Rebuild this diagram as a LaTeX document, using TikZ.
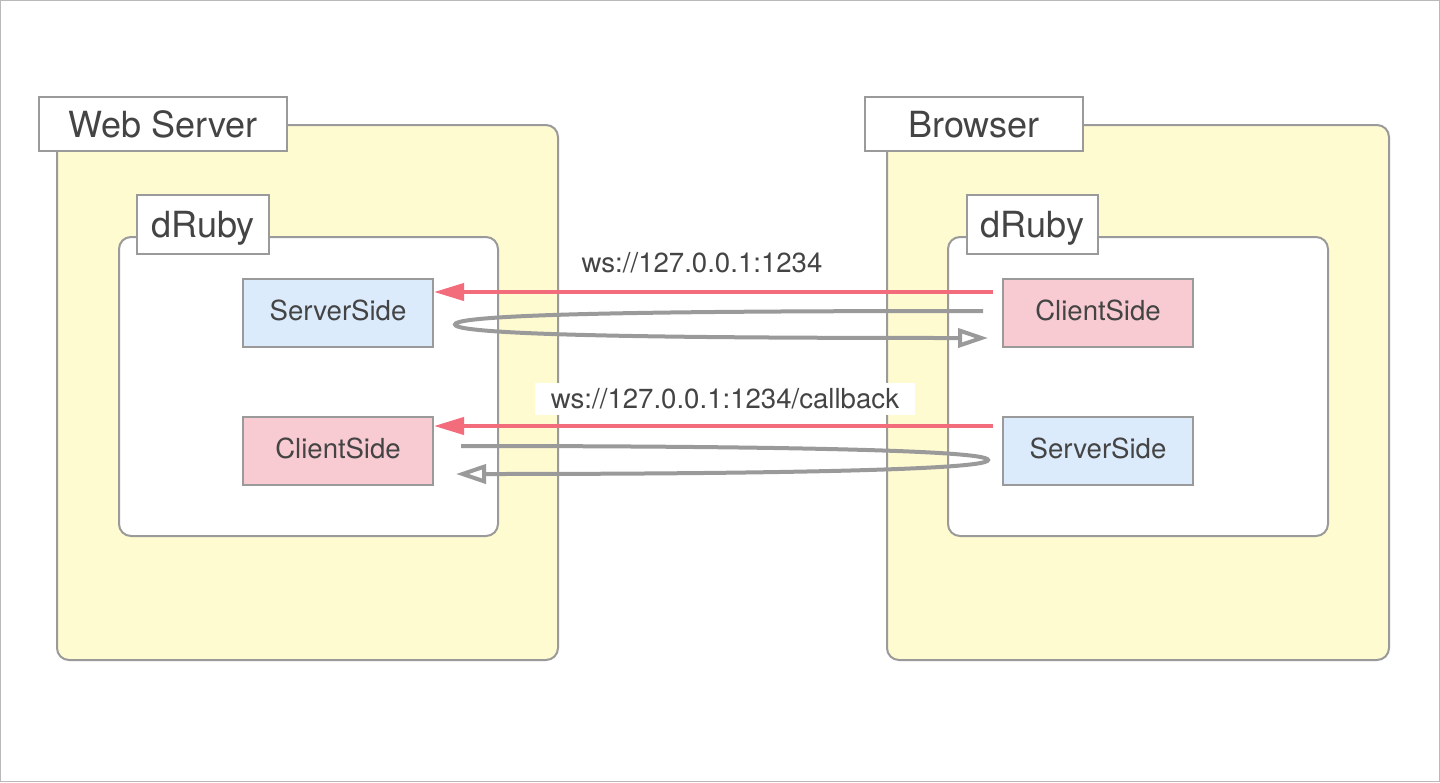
\documentclass[tikz,border=0pt]{standalone}
\usepackage{fontspec}
\setmainfont{TeX Gyre Heros}
\usetikzlibrary{positioning}
\usetikzlibrary{arrows.meta}
\definecolor{myyellow}{HTML}{FFFBD1}
\definecolor{myblue}{HTML}{DBEBFC}
\definecolor{mypink}{HTML}{F8CBD3}
\definecolor{myred}{HTML}{F36C7C}
\definecolor{mygray}{HTML}{9A9A9A}
\definecolor{mytext}{HTML}{444444}
\tikzset{
    mybox/.style = {rectangle, draw=mygray, line width=1pt, inner sep=0pt, text=mytext},
    myboxy/.style = {mybox, rounded corners=6pt, fill=myyellow},
    myboxw/.style = {mybox, rounded corners=6pt, fill=white},
    mytitle/.style = {mybox, fill=white, text depth=0pt, font=\fontsize{18}{20}\selectfont},
    mynodeb/.style = {mybox, fill=myblue, minimum width=95pt, minimum height=34pt, text depth=0.5ex, font=\fontsize{13.8}{16}\selectfont},
    mynoder/.style = {mybox, fill=mypink, minimum width=95pt, minimum height=34pt, text depth=0.5ex, font=\fontsize{13.8}{16}\selectfont},
    mylabel/.style = {inner sep=0pt, text=mytext, font=\fontsize{13.8}{16}\selectfont},
    edger/.style = {-{Triangle[length=15pt,width=8.5pt]}, line width=2pt, myred}, % request
    edgeg/.style = {-{Triangle[open,length=15pt,width=9.5pt]}, line width=2pt, mygray}, % round trip
    frame/.style = {line width=0.6pt, gray!55}
}

\begin{document}
\begin{tikzpicture}[x=0.5pt, y=-0.5pt]
  \useasboundingbox (0,0) rectangle (1440,782);
  \draw[frame] (0.6,0.6) rectangle (1439.4,781.4);

  % Web Server side
  \node[myboxy, minimum width=250.5pt, minimum height=267.5pt] (web) at (307.5,392.5) {};
  \node[mytitle, minimum width=124pt, minimum height=27pt] (webt) at (163,124) {Web Server};
  \node[myboxw, minimum width=189.5pt, minimum height=149.5pt] (drl) at (308.5,386.5) {};
  \node[mytitle, minimum width=66pt, minimum height=29.5pt] (drlt) at (203,224.5) {dRuby};
  \node[mynodeb] (ssl) at (338,313) {ServerSide};
  \node[mynoder, below=34pt of ssl] (csl) {ClientSide};

  % Browser side
  \node[myboxy, minimum width=251pt, minimum height=267.5pt] (brw) at (1138,392.5) {};
  \node[mytitle, minimum width=109pt, minimum height=27pt] (brwt) at (974,124) {Browser};
  \node[myboxw, minimum width=190pt, minimum height=149.5pt] (drr) at (1138,386.5) {};
  \node[mytitle, minimum width=65.5pt, minimum height=29.5pt] (drrt) at (1032.5,224.5) {dRuby};
  \node[mynoder] (csr) at (1098,313) {ClientSide};
  \node[mynodeb, below=34pt of csr] (ssr) {ServerSide};

  % urls
  \node[mylabel] (url) at (702,263) {ws://127.0.0.1:1234};
  \node[mylabel, fill=white, minimum width=190pt, minimum height=16pt] (urlcb) at (725,399) {ws://127.0.0.1:1234/callback};

  % first connection
  \coordinate (r1) at (993,292);
  \coordinate (g1s) at (983,311);
  \coordinate (g1e) at (988,338);
  \draw[edger] (r1) -- (ssl.east |- r1);
  \draw[edgeg] (g1s) .. controls (700,311) and (455,313) .. (455,324.5)
    .. controls (455,336) and (700,338) .. (g1e);

  % callback connection
  \coordinate (r2) at (993,426);
  \coordinate (g2s) at (461,446);
  \coordinate (g2e) at (456,474);
  \draw[edger] (r2) -- (csl.east |- r2);
  \draw[edgeg] (g2s) .. controls (720,446) and (988,449) .. (988,460)
    .. controls (988,471) and (720,474) .. (g2e);
\end{tikzpicture}
\end{document}
